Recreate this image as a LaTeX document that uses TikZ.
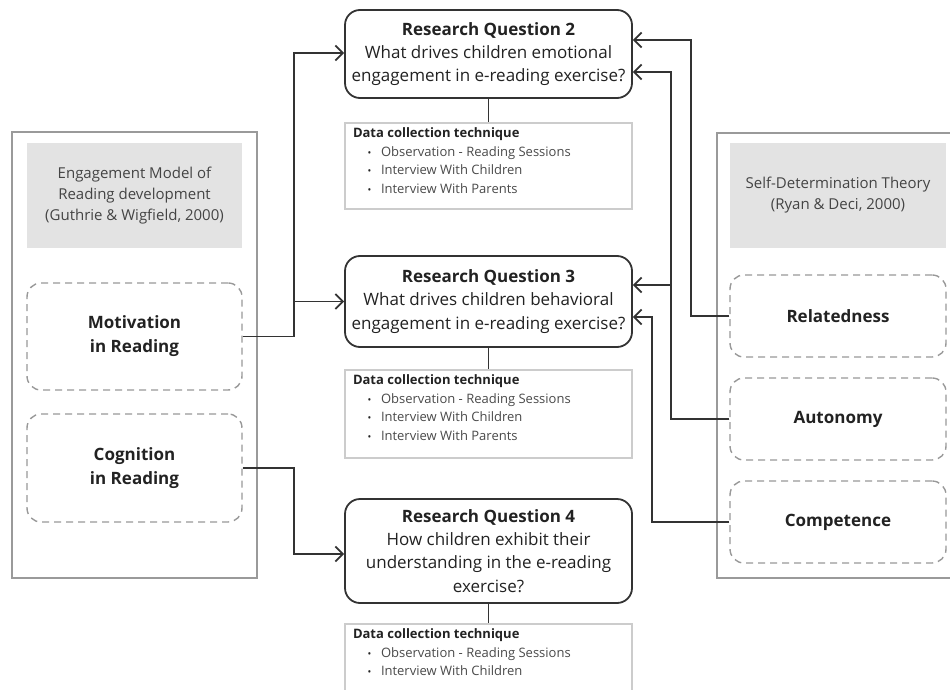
\documentclass[tikz,border=0pt]{standalone}
\usepackage{fontspec}
\setmainfont{Open Sans}
\usetikzlibrary{arrows.meta}

\definecolor{ink}{HTML}{222222}
\definecolor{linecol}{HTML}{333333}
\definecolor{panelcol}{HTML}{9A9A9A}
\definecolor{headfill}{HTML}{E3E3E3}
\definecolor{headtext}{HTML}{444444}
\definecolor{dashcol}{HTML}{999999}
\definecolor{datacol}{HTML}{CCCCCC}
\definecolor{itemtext}{HTML}{4A4A4A}

% one bulleted entry of a data collection list
\newcommand{\dcitem}[1]{\hspace*{14.5pt}\makebox[13.5pt][l]{{\fontsize{10}{10}\selectfont •}}{\color{itemtext}#1}}
% body of a data collection box, top aligned in a fixed height
\newcommand{\dcbody}[2]{\parbox[t][#1][t]{271pt}{\fontsize{13}{18.5}\selectfont\color{ink}%
  \textbf{Data collection technique}\\#2}}

\tikzset{
  panel/.style={draw=panelcol, line width=1.6pt, fill=white},
  headbox/.style={fill=headfill, draw=none, text=headtext, align=center,
    font=\fontsize{15}{21}\selectfont},
  factor/.style={draw=dashcol, line width=1.4pt, dash pattern=on 7pt off 5pt,
    rounded corners=14pt, align=center, text=ink,
    font=\fontsize{17}{24}\selectfont\bfseries},
  rqbox/.style={draw=linecol, line width=1.8pt, rounded corners=15pt,
    minimum width=287pt, align=center, text=ink, fill=white,
    font=\fontsize{17}{23.3}\selectfont},
  databox/.style={draw=datacol, line width=1.6pt, anchor=north,
    inner xsep=8pt, inner ysep=5pt, align=left, fill=white},
  conn/.style={draw=linecol, line width=1.8pt},
  arr/.style={conn, -{Straight Barb[length=7.5pt,width=15pt]}},
}

\begin{document}
\begin{tikzpicture}[x=1pt, y=-1pt]
\useasboundingbox[fill=white] (0,0) rectangle (950,690);

% left frame: Engagement Model of Reading
\node[panel, minimum width=245pt, minimum height=446pt] (lp) at (134.5,355) {};
\node[headbox, minimum width=215pt, minimum height=105pt] (lh) at (134.5,195.5)
  {Engagement Model of\\Reading development\\(Guthrie \& Wigfield, 2000)};
\node[factor, minimum width=215pt, minimum height=107pt] (mot) at (134.5,336.5)
  {Motivation\\in Reading};
\node[factor, minimum width=215pt, minimum height=108pt] (cog) at (134.5,468)
  {Cognition\\in Reading};

% right frame: Self-Determination Theory
\node[panel, minimum width=245pt, minimum height=445pt] (rp) at (839.5,355.5) {};
\node[headbox, minimum width=216pt, minimum height=105pt] (rh) at (838,195.5)
  {Self-Determination Theory\\(Ryan \& Deci, 2000)};
\node[factor, minimum width=216pt, minimum height=82pt] (rel) at (838,316) {Relatedness};
\node[factor, minimum width=216pt, minimum height=82pt] (aut) at (838,419) {Autonomy};
\node[factor, minimum width=216pt, minimum height=82pt] (com) at (838,522) {Competence};

% research questions
\node[rqbox, minimum height=88pt] (rq2) at (488.5,54)
  {\textbf{Research Question 2}\\What drives children emotional\\engagement in e-reading exercise?};
\node[rqbox, minimum height=91pt] (rq3) at (488.5,301.5)
  {\textbf{Research Question 3}\\What drives children behavioral\\engagement in e-reading exercise?};
\node[rqbox, minimum height=104pt] (rq4) at (488.5,551)
  {\textbf{Research Question 4}\\How children exhibit their\\understanding in the e-reading\\exercise?};

% data collection boxes
\node[databox] (d2) at (488.5,122) {\dcbody{76pt}{%
  \dcitem{Observation - Reading Sessions}\\\dcitem{Interview With Children}\\\dcitem{Interview With Parents}}};
\node[databox] (d3) at (488.5,369) {\dcbody{78pt}{%
  \dcitem{Observation - Reading Sessions}\\\dcitem{Interview With Children}\\\dcitem{Interview With Parents}}};
\node[databox] (d4) at (488.5,623) {\dcbody{90pt}{%
  \dcitem{Observation - Reading Sessions}\\\dcitem{Interview With Children}}};

\draw[conn] (rq2.south) -- (d2.north);
\draw[conn] (rq3.south) -- (d3.north);
\draw[conn] (rq4.south) -- (d4.north);

% left connectors
\draw[arr] (mot.east) -- ++(51,0) |- ([yshift=1pt]rq2.west);
\draw[arr] (mot.east) -- ++(51,0) |- (rq3.west);
\draw[arr] (cog.east) -- ++(51,0) |- ([yshift=-3pt]rq4.west);

% right connectors
\draw[arr] (rel.west) -- ++(-38,0) |- ([yshift=14pt]rq2.east);
\draw[arr] (aut.west) -- ++(-58,0) |- ([yshift=-18pt]rq2.east);
\draw[arr] (aut.west) -- ++(-58,0) |- ([yshift=16.5pt]rq3.east);
\draw[arr] (com.west) -- ++(-77,0) |- ([yshift=-15.5pt]rq3.east);
\end{tikzpicture}
\end{document}
